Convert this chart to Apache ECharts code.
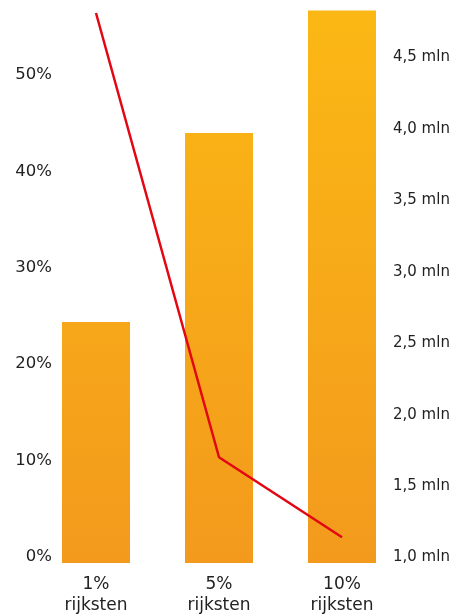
<!DOCTYPE html>
<html><head><meta charset="utf-8">
<script src="https://cdn.jsdelivr.net/npm/echarts@6/dist/echarts.min.js"></script>
<style>html,body{margin:0;padding:0;background:#fff}#c{width:454px;height:616px}</style>
</head><body><div id="c"></div>
<script>
var categories = ['1%\nrijksten', '5%\nrijksten', '10%\nrijksten'];
var shareValues = [25.0, 44.6, 57.3];      // % (left axis), bars
var thresholdValues = [4.85, 1.74, 1.18];  // mln (right axis), line
var chart = echarts.init(document.getElementById('c'));
var font = 'DejaVu Sans';
chart.setOption({
  animation: false,
  grid: {left: 34.5, right: 50.5, top: 8, bottom: 53},
  xAxis: {
    type: 'category', data: categories,
    axisLine: {show: false}, axisTick: {show: false},
    axisLabel: {color: '#222', fontFamily: font, fontSize: 17, lineHeight: 21, margin: 11}
  },
  yAxis: [{
    type: 'value', min: 0, max: 57.57, interval: 10,
    splitLine: {show: false}, axisLine: {show: false}, axisTick: {show: false},
    axisLabel: {showMaxLabel: false, margin: -17.5, color: '#222', fontFamily: font, fontSize: 16.5,
      verticalAlign: 'bottom', lineHeight: 12,
      formatter: function (v) { return v + '%'; }}
  }, {
    type: 'value', min: 1, max: 4.885, interval: 0.5, position: 'right',
    splitLine: {show: false}, axisLine: {show: false}, axisTick: {show: false},
    axisLabel: {showMaxLabel: false, margin: -10.5, color: '#222', fontFamily: font, fontSize: 15,
      verticalAlign: 'bottom', lineHeight: 11,
      formatter: function (v) { return v.toFixed(1).replace('.', ',') + ' mln'; }}
  }],
  series: [{
    type: 'bar', data: shareValues, yAxisIndex: 0, barWidth: 68,
    itemStyle: {color: new echarts.graphic.LinearGradient(0, 8, 0, 563, [
      {offset: 0, color: '#FBB814'}, {offset: 1, color: '#F39A1D'}], true)}
  }, {
    type: 'line', data: thresholdValues, yAxisIndex: 1, symbol: 'none',
    lineStyle: {color: '#E30613', width: 2.5}
  }]
});
</script></body></html>
